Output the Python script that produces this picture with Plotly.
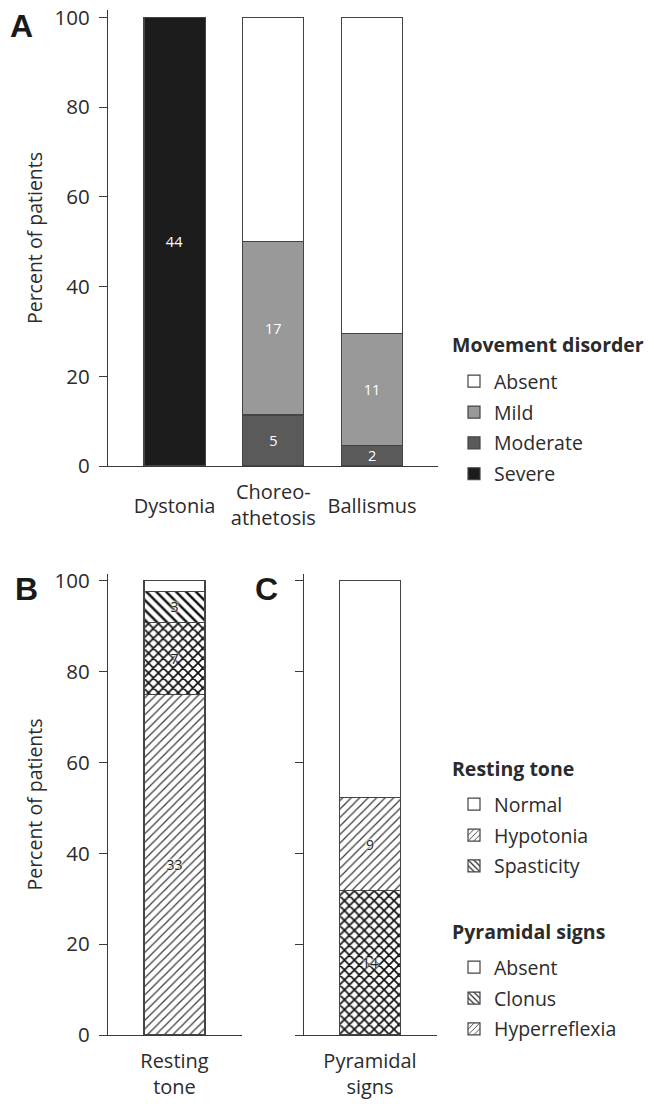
import plotly.graph_objects as go

# ---------------- data ----------------
N_PATIENTS = 44

a_cats = ["Dystonia", "Choreo-<br>athetosis", "Ballismus"]
a_severe = [44, None, None]
a_moderate = [None, 5, 2]
a_mild = [None, 17, 11]
a_absent = [None, 22, 31]

b_cat = ["Resting<br>tone"]
b_hypotonia = [33]
b_mixed = [7]
b_spasticity = [3]
b_normal = [1]

c_cat = ["Pyramidal<br>signs"]
c_clonus = [14]
c_hyper = [9]
c_absent = [21]

y_ticks = [0, 20, 40, 60, 80, 100]

# ---------------- helpers ----------------
FONT = "Open Sans"
AX = "#3a3a3a"
TXT = "#2b2b2b"

W, H = 654, 1104


def px_x(p):
    return p / W


def px_y(p):
    return 1 - p / H


def pct(vals):
    return [None if v is None else v / N_PATIENTS * 100 for v in vals]


def lab(vals):
    return ["" if v is None else str(v) for v in vals]


def hatch(shape, size=7, solidity=0.18, fg="#2a2a2a"):
    return dict(shape=shape, size=size, solidity=solidity,
                fgcolor=fg, bgcolor="white", fillmode="replace")


fig = go.Figure()
line = dict(color="#444444", width=1.2)
halo = "0px 0px 3px white, 0px 0px 3px white, 0px 0px 2px white"
a_x = list(range(len(a_cats)))

# Panel A
a_series = [
    ("Severe", a_severe, "#1c1c1c", True, 4),
    ("Moderate", a_moderate, "#5a5a5a", True, 3),
    ("Mild", a_mild, "#999999", True, 2),
    ("Absent", a_absent, "#ffffff", False, 1),
]
for name, vals, col, show_text, rank in a_series:
    fig.add_trace(go.Bar(
        x=a_x, y=pct(vals), width=0.62, name=name,
        marker=dict(color=col, line=line),
        text=lab(vals) if show_text else None,
        textposition="inside", insidetextanchor="middle", textangle=0,
        constraintext="none",
        textfont=dict(color="white", size=14.5, family=FONT),
        legend="legend", legendgroup="a" + name, legendrank=rank,
        xaxis="x", yaxis="y", hoverinfo="skip",
    ))

SL = hatch("/", 6, 0.2, "#3a3a3a")
BS = hatch("\\", 7, 0.35, "#111111")
XX = hatch("x", 7, 0.42, "#111111")

# Panel B
b_series = [
    ("Hypotonia", b_hypotonia, SL, True),
    ("Mixed", b_mixed, XX, True),
    ("Spasticity", b_spasticity, BS, True),
    ("Normal", b_normal, None, False),
]
for name, vals, pat, show_text in b_series:
    m = dict(color="white", line=line)
    if pat:
        m["pattern"] = pat
    fig.add_trace(go.Bar(
        x=[0], y=pct(vals), width=0.452, name=name, showlegend=False,
        marker=m,
        text=lab(vals) if show_text else None,
        textposition="inside", insidetextanchor="middle", textangle=0,
        constraintext="none",
        textfont=dict(color="#222", size=14, family=FONT, shadow=halo),
        xaxis="x2", yaxis="y2", hoverinfo="skip",
    ))

# Panel C
c_series = [
    ("Clonus", c_clonus, XX, True),
    ("Hyperreflexia", c_hyper, SL, True),
    ("Absent", c_absent, None, False),
]
for name, vals, pat, show_text in c_series:
    m = dict(color="white", line=line)
    if pat:
        m["pattern"] = pat
    fig.add_trace(go.Bar(
        x=[0], y=pct(vals), width=0.452, name=name, showlegend=False,
        marker=m,
        text=lab(vals) if show_text else None,
        textposition="inside", insidetextanchor="middle", textangle=0,
        constraintext="none",
        textfont=dict(color="#222", size=14, family=FONT, shadow=halo),
        xaxis="x3", yaxis="y3", hoverinfo="skip",
    ))

# Legend-only entries for B / C
leg2 = [("Normal", None), ("Hypotonia", hatch("/", 5, 0.2)), ("Spasticity", hatch("\\", 5, 0.3))]
leg3 = [("Absent", None), ("Clonus", hatch("\\", 5, 0.3)), ("Hyperreflexia", hatch("/", 5, 0.2))]
for lg, items in (("legend2", leg2), ("legend3", leg3)):
    for i, (name, pat) in enumerate(items):
        m = dict(color="white", line=line)
        if pat:
            m["pattern"] = pat
        fig.add_trace(go.Bar(
            x=[None], y=[None], name=name, marker=m,
            legend=lg, legendgroup=lg + name, legendrank=i + 1,
            xaxis="x2", yaxis="y2", hoverinfo="skip",
        ))

ytick_common = dict(
    tickvals=y_ticks, ticks="outside", ticklen=8, tickwidth=1.3, tickcolor=AX,
    showline=True, linecolor=AX, linewidth=1.3, showgrid=False, zeroline=False,
    ticklabelstandoff=5, ticklabeloverflow="allow",
    tickfont=dict(size=20.5, color=TXT, family=FONT),
)
xcommon = dict(
    showline=True, linecolor=AX, linewidth=1.3, showgrid=False, zeroline=False,
    ticks="", ticklabelstandoff=8, ticklabeloverflow="allow",
    tickfont=dict(size=20, color=TXT, family=FONT),
)
ytitle = dict(text="Percent of patients", standoff=5,
              font=dict(size=19.5, color=TXT, family=FONT))

legend_font = dict(size=19.5, color=TXT, family=FONT)


def legend_box(ytop):
    return dict(x=px_x(454), y=px_y(ytop), xanchor="left", yanchor="top",
                traceorder="grouped", tracegroupgap=2.5,
                font=legend_font, bgcolor="rgba(0,0,0,0)")


def title_ann(text, ypix):
    return dict(text="<b>" + text + "</b>", x=px_x(450), y=px_y(ypix),
                xref="paper", yref="paper", xanchor="left", yanchor="middle",
                showarrow=False, font=dict(size=19.5, color=TXT, family=FONT))


def letter(text, xpix, ypix):
    return dict(text="<b>" + text + "</b>", x=px_x(xpix), y=px_y(ypix),
                xref="paper", yref="paper", xanchor="left", yanchor="middle",
                showarrow=False,
                font=dict(size=32, color="#1a1a1a", family="Liberation Sans"))


# single-line category labels of panel A sit lower than the two-line one
single = [i for i, c in enumerate(a_cats) if "<br>" not in c]
multi = [i for i, c in enumerate(a_cats) if "<br>" in c]

fig.update_layout(
    width=W, height=H, margin=dict(l=0, r=0, t=0, b=0),
    paper_bgcolor="white", plot_bgcolor="white", template="none",
    barmode="stack", font=dict(family=FONT, color=TXT),
    xaxis=dict(domain=[px_x(99), px_x(438)], range=[-0.7646, 2.668], anchor="y",
               tickvals=multi, ticktext=[a_cats[i] for i in multi], **xcommon),
    xaxis4=dict(overlaying="x", anchor="y", side="bottom",
                range=[-0.7646, 2.668], showline=False, showgrid=False,
                zeroline=False, ticks="", ticklabelstandoff=26,
                tickvals=single, ticktext=[a_cats[i] for i in single],
                tickfont=dict(size=20, color=TXT, family=FONT)),
    yaxis=dict(domain=[px_y(466), px_y(10)], range=[0, 101.7], anchor="free",
               position=px_x(107), title=ytitle, **ytick_common),
    xaxis2=dict(domain=[px_x(99), px_x(242)], range=[-0.5 - 8 / 135, 0.5], anchor="y2",
                tickvals=[0], ticktext=b_cat, **xcommon),
    yaxis2=dict(domain=[px_y(1035), px_y(574)], range=[0, 101.5], anchor="free",
                position=px_x(107), title=ytitle, **ytick_common),
    xaxis3=dict(domain=[px_x(295), px_x(437)], range=[-0.5 - 8 / 134, 0.5], anchor="y3",
                tickvals=[0], ticktext=c_cat, **xcommon),
    yaxis3=dict(domain=[px_y(1035), px_y(574)], range=[0, 101.5], anchor="free",
                position=px_x(303), showticklabels=False, **ytick_common),
    legend=legend_box(362),
    legend2=legend_box(785),
    legend3=legend_box(948),
    annotations=[
        title_ann("Movement disorder", 344),
        title_ann("Resting tone", 768),
        title_ann("Pyramidal signs", 931),
        letter("A", 8, 26),
        letter("B", 13, 589),
        letter("C", 253, 589),
    ],
)

# an invisible trace so the overlaying label axis is drawn
fig.add_trace(go.Scatter(x=[None], y=[None], xaxis="x4", yaxis="y",
                         showlegend=False, hoverinfo="skip"))

fig.write_html("out.html",
               config={"displayModeBar": False},
               post_script="document.body.style.margin='0';"
                           "document.body.style.overflow='hidden';")
